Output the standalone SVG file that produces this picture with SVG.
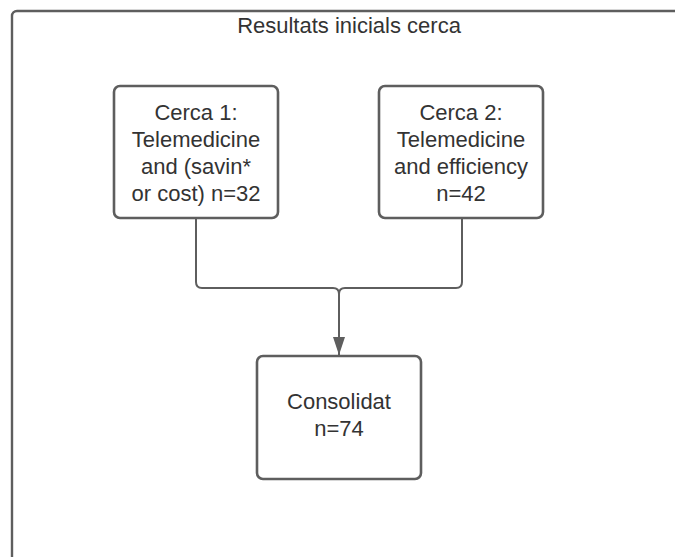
<svg xmlns="http://www.w3.org/2000/svg" width="675" height="557" viewBox="0 0 675 557">
<style>
.frame{fill:#ffffff;stroke:#5e5e5e;stroke-width:2.4}
.box{fill:#ffffff;stroke:#5e5e5e;stroke-width:2.6}
.conn{fill:none;stroke:#5e5e5e;stroke-width:2}
text{font-family:"Liberation Sans",Arial,sans-serif;font-size:22px;fill:#333333;text-anchor:middle}
</style>
<defs>
<marker id="arrow" markerUnits="userSpaceOnUse" markerWidth="18" markerHeight="12" refX="18" refY="6" viewBox="0 0 18 12" orient="auto">
<path d="M0,0 L18,6 L0,12 Z" fill="#5e5e5e"/>
</marker>
</defs>
<rect width="675" height="557" fill="#ffffff"/>
<g id="container">
<rect class="frame" x="12" y="11" width="720" height="620" rx="5"/>
<text x="349" y="33">Resultats inicials cerca</text>
</g>
<g id="connectors">
<path class="conn" d="M196 218 V282 Q196 288 202 288 H333 Q339 288 339 294 V355" marker-end="url(#arrow)"/>
<path class="conn" d="M462 218 V282 Q462 288 456 288 H345 Q339 288 339 294"/>
</g>
<g id="cerca1">
<rect class="box" x="114" y="86" width="164" height="132" rx="6"/>
<text x="196" y="120">Cerca 1:</text>
<text x="196" y="147">Telemedicine</text>
<text x="196" y="174">and (savin*</text>
<text x="196" y="201">or cost) n=32</text>
</g>
<g id="cerca2">
<rect class="box" x="379" y="86" width="164" height="132" rx="6"/>
<text x="461" y="120">Cerca 2:</text>
<text x="461" y="147">Telemedicine</text>
<text x="461" y="174">and efficiency</text>
<text x="461" y="201">n=42</text>
</g>
<g id="consolidat">
<rect class="box" x="257" y="356" width="164" height="123" rx="6"/>
<text x="339" y="409">Consolidat</text>
<text x="339" y="436">n=74</text>
</g>
</svg>
